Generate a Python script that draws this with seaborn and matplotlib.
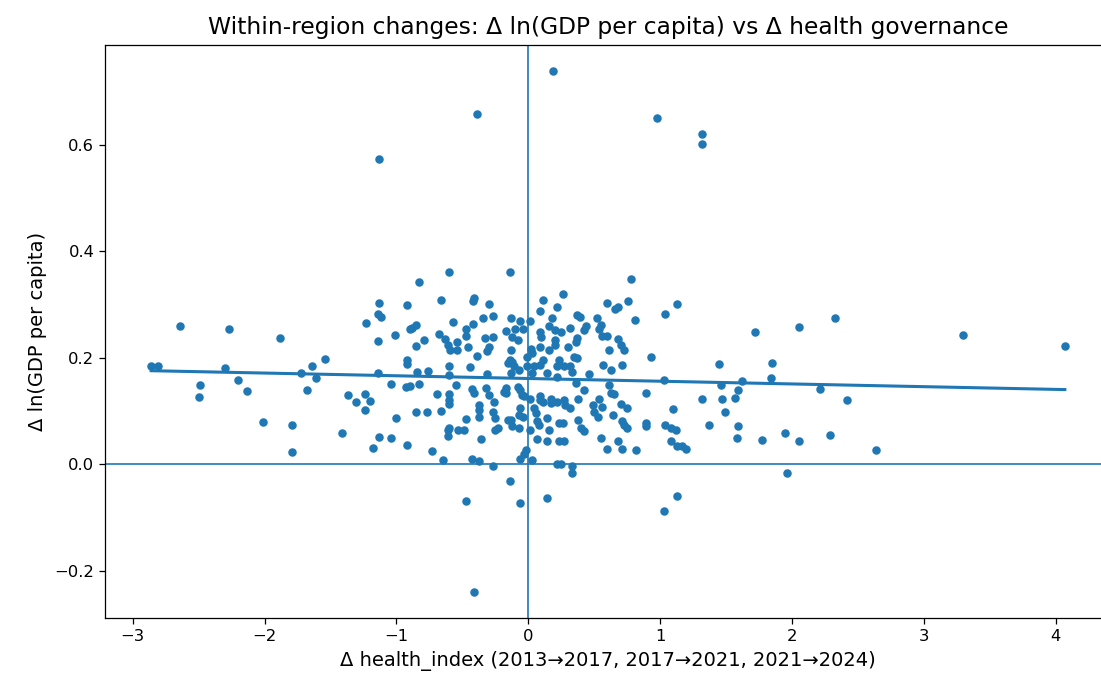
import numpy as np
import pandas as pd
import matplotlib
matplotlib.use("Agg")
import matplotlib.pyplot as plt
import seaborn as sns

# ---------------------------------------------------------
# data: change in health index vs change in ln(GDP per capita)
# ---------------------------------------------------------
d_health = [
    0.19, -0.39, 0.98, 1.32, 1.32, -1.13,
    -2.86, -2.81, -2.64, -2.49, -2.50, -2.27, -2.30, -2.20, -2.13, -1.88, -2.01, -1.79, -1.79, -1.72, -1.68, -1.64, -1.61, -1.54,
    -1.41, -1.37, -1.31, -1.24, -1.20, -1.24, -1.14, -1.04, -1.00, -1.13, -1.04, -1.18, -0.92, -0.92, -0.84, -0.76, -0.93, -0.90,
    -0.83, -0.85, -0.77, -0.69, -0.66, -0.73, -0.65, -0.60, -0.60, -0.55, -0.60, -0.60, -0.60, -0.61, -0.61, -0.60, -0.53,
    -0.60, -0.83, -1.13, -0.92, -0.66, -1.14, -1.12, -1.23, -0.57, -0.85, -0.88, -0.90, -1.14, -1.01, -0.79, -0.85, -0.68,
    -0.63, -0.61, -0.59, -0.54, -0.54, -0.92,
    -0.14, -0.41, -0.42, -0.30, -0.34, -0.27, -0.42, -0.47, -0.47, -0.33, -0.27, -0.30, -0.46, -0.39, -0.13, -0.06, 0.01,
    -0.17, -0.10, -0.04, -0.12, -0.08, -0.13, -0.14, 0.02, 0.09, 0.10, 0.11, 0.09, 0.18, 0.22, 0.16, 0.20, 0.09, 0.16, 0.20,
    -0.44, -0.31, -0.15, -0.13, -0.07, -0.01, 0.03, 0.09, 0.14, 0.22, 0.22, -0.43, -0.41, -0.32, -0.30, -0.26, -0.18, -0.06,
    -0.05, 0.01, 0.09, 0.11, 0.17, 0.22, -0.37, -0.37, -0.27, -0.25, -0.37, -0.47, -0.06, -0.07, -0.15, -0.12, -0.07, 0.01,
    0.06, 0.07, 0.14, -0.25, -0.23, -0.49, -0.36, 0.07, 0.14, 0.23, -0.43, -0.37, -0.27, -0.06, -0.02, 0.03, 0.22, -0.03,
    0.78, 0.26, 0.60, 0.76, 0.66, 0.68, 1.13, 1.04, 0.81, 0.37, 0.39, 0.52, 0.55, 0.54, 0.44, 0.42, 0.32, 0.56, 0.60, 0.25,
    0.37, 0.36, 0.30, 0.68, 0.70, 0.73, 0.61, 0.93, 0.35,
    0.27, 0.57, 0.63, 0.71, 0.33, 0.46, 0.36, 0.42, 0.61, 0.63, 0.65, 0.89, 1.03, 0.27, 0.38, 0.32, 0.49, 0.54, 0.56, 0.50,
    0.53, 0.64, 0.70, 0.75, 1.10, 0.26, 0.38, 0.40, 0.42, 0.71, 0.73, 0.75, 0.89, 0.89, 1.04, 1.08, 1.12, 0.27, 0.55, 0.60,
    0.68, 0.71, 0.82, 1.08, 1.13, 0.25, 0.33, 0.33,
    1.72, 2.05, 2.33, 1.45, 1.85, 1.46, 1.62, 1.84, 1.59, 1.57, 1.47, 1.32, 2.21, 2.42, 1.49, 1.37, 1.59, 1.58, 1.77, 1.95,
    2.05, 2.29, 2.64, 1.17, 1.20, 1.96,
    3.30, 4.07,
    -0.47, -0.14, -0.06, 0.14, 1.03, 1.13, -0.41,
    -0.31, 0.03, 0.20, -0.12, -0.01, 0.11, 0.23, 0.37, -0.11, 0.04, 0.32, -0.17, -0.08, -0.17, -0.03, 0.09, 0.17, 0.28,
    0.04, -0.13, -0.04, 0.08, 0.23, 0.16,
]

d_lngdp = [
    0.738, 0.658, 0.650, 0.620, 0.602, 0.574,
    0.185, 0.185, 0.260, 0.149, 0.127, 0.254, 0.181, 0.159, 0.137, 0.237, 0.079, 0.074, 0.024, 0.172, 0.140, 0.184, 0.162, 0.198,
    0.060, 0.131, 0.118, 0.132, 0.120, 0.102, 0.172, 0.151, 0.088, 0.051, 0.050, 0.030, 0.036, 0.189, 0.173, 0.176, 0.145, 0.148,
    0.151, 0.099, 0.098, 0.132, 0.100, 0.026, 0.009, 0.184, 0.168, 0.150, 0.132, 0.121, 0.113, 0.064, 0.054, 0.069, 0.065,
    0.361, 0.342, 0.303, 0.300, 0.308, 0.282, 0.277, 0.266, 0.267, 0.262, 0.257, 0.254, 0.232, 0.242, 0.234, 0.223, 0.245,
    0.236, 0.224, 0.215, 0.230, 0.215, 0.196,
    0.361, 0.313, 0.307, 0.301, 0.275, 0.278, 0.264, 0.254, 0.241, 0.237, 0.239, 0.221, 0.221, 0.204, 0.274, 0.269, 0.269,
    0.250, 0.255, 0.254, 0.239, 0.234, 0.215, 0.196, 0.216, 0.248, 0.239, 0.308, 0.288, 0.274, 0.296, 0.259, 0.252, 0.221, 0.215, 0.224,
    0.183, 0.170, 0.190, 0.171, 0.178, 0.184, 0.171, 0.187, 0.171, 0.184, 0.165, 0.141, 0.134, 0.143, 0.131, 0.118, 0.136, 0.139,
    0.131, 0.123, 0.128, 0.118, 0.123, 0.118, 0.112, 0.102, 0.098, 0.087, 0.089, 0.085, 0.106, 0.092, 0.084, 0.072, 0.069, 0.065,
    0.097, 0.081, 0.087, 0.065, 0.069, 0.065, 0.048, 0.048, 0.045, 0.045, 0.011, 0.006, -0.002, 0.011, 0.028, 0.009, 0.000, 0.019,
    0.348, 0.320, 0.303, 0.307, 0.291, 0.296, 0.302, 0.282, 0.271, 0.280, 0.277, 0.274, 0.262, 0.254, 0.259, 0.252, 0.256, 0.241, 0.241, 0.249,
    0.237, 0.229, 0.221, 0.235, 0.224, 0.215, 0.215, 0.201, 0.202,
    0.184, 0.187, 0.178, 0.187, 0.174, 0.170, 0.153, 0.140, 0.150, 0.135, 0.132, 0.134, 0.158, 0.121, 0.123, 0.106, 0.112, 0.123, 0.107, 0.098,
    0.089, 0.093, 0.114, 0.106, 0.104, 0.078, 0.084, 0.069, 0.062, 0.082, 0.075, 0.069, 0.078, 0.072, 0.075, 0.069, 0.065, 0.044, 0.049, 0.029,
    0.044, 0.029, 0.027, 0.045, 0.034, 0.000, -0.003, -0.016,
    0.249, 0.258, 0.274, 0.189, 0.191, 0.149, 0.156, 0.162, 0.140, 0.125, 0.123, 0.123, 0.141, 0.121, 0.098, 0.074, 0.073, 0.049, 0.046, 0.060,
    0.044, 0.055, 0.027, 0.034, 0.029, -0.016,
    0.242, 0.222,
    -0.068, -0.031, -0.073, -0.063, -0.088, -0.060, -0.239,
    0.212, 0.209, 0.234, 0.193, 0.202, 0.196, 0.196, 0.199, 0.184, 0.184, 0.184, 0.143, 0.146, 0.134, 0.128, 0.121, 0.115, 0.112,
    0.106, 0.084, 0.090, 0.075, 0.078, 0.065,
]

df = pd.DataFrame({"d_health": d_health, "d_lngdp": d_lngdp})

fig = plt.figure(figsize=(11.01, 6.82), dpi=100)
ax = fig.add_axes([105 / 1101, 1 - 618 / 682, 1006 / 1101, 573 / 682])

sns.regplot(data=df, x="d_health", y="d_lngdp", ax=ax, ci=None, color="#1f77b4",
            scatter_kws={"s": 26, "alpha": 1}, line_kws={"lw": 2.2})
ax.axhline(0, color="#1f77b4", lw=1.2)
ax.axvline(0, color="#1f77b4", lw=1.2)

ax.set_xlim(-3.21, 4.42)
ax.set_ylim(-0.288, 0.787)
ax.set_xticks([-3, -2, -1, 0, 1, 2, 3, 4])
ax.set_yticks([-0.2, 0.0, 0.2, 0.4, 0.6])
ax.tick_params(labelsize=11.8, length=4.2, width=0.9)
for s in ax.spines.values():
    s.set_linewidth(0.9)
ax.set_title("Within-region changes: Δ ln(GDP per capita) vs Δ health governance", fontsize=16.8, pad=8)
ax.set_xlabel("Δ health_index (2013→2017, 2017→2021, 2021→2024)", fontsize=14, labelpad=5)
ax.set_ylabel("Δ ln(GDP per capita)", fontsize=14, labelpad=5)

fig.savefig("out.png", dpi=100)
